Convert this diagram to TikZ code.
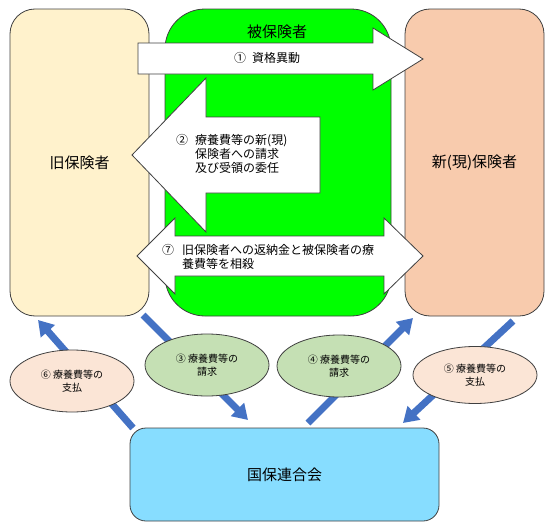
\documentclass[tikz,border=0pt]{standalone}
\usepackage{fontspec}
\setmainfont{Noto Sans CJK JP}
\usetikzlibrary{shapes.geometric,arrows.meta}
\definecolor{oldc}{HTML}{FFF2CC}
\definecolor{newc}{HTML}{F8CBAD}
\definecolor{insc}{HTML}{00FF00}
\definecolor{kokc}{HTML}{87DDFF}
\definecolor{elg}{HTML}{C5E0B4}
\definecolor{elp}{HTML}{FBE5D6}
\definecolor{blu}{HTML}{4472C4}
\definecolor{edge}{HTML}{404040}
\tikzset{
  box/.style={draw=edge, line width=0.8pt, rectangle, inner sep=0pt},
  bigarrow/.style={draw=edge, line width=0.8pt, fill=white, line join=miter},
  oval/.style={draw=edge, line width=0.8pt, ellipse, minimum width=124pt, minimum height=62pt, inner sep=0pt, align=center, font=\fontsize{10}{13}\selectfont},
  flow/.style={draw=blu, line width=7pt, -{Triangle[width=18pt,length=15pt]}},
  lbl/.style={font=\fontsize{15}{18}\selectfont, inner sep=0pt},
  atext/.style={font=\fontsize{12}{14}\selectfont, inner sep=0pt, align=left}
}
\begin{document}
\begin{tikzpicture}[x=1pt,y=-1pt]
\useasboundingbox (0,0) rectangle (552,530);
% boxes
\node[box, fill=oldc, rounded corners=25pt, minimum width=139pt, minimum height=307pt, lbl] (old) at (79.5,162.5) {旧保険者};
\node[box, fill=insc, rounded corners=40pt, minimum width=226pt, minimum height=307pt] (ins) at (278,162.5) {};
\node[lbl] (inslbl) at (277,32) {被保険者};
\node[box, fill=newc, rounded corners=25pt, minimum width=139pt, minimum height=307pt, lbl] (new) at (474.5,162.5) {新(現)保険者};
\node[box, fill=kokc, rounded corners=16pt, minimum width=309pt, minimum height=93pt, lbl] (kok) at (284.5,474.5) {国保連合会};
% big white arrows
\draw[bigarrow] (138,43) -- (373,43) -- (373,28) -- (423,59) -- (373,90) -- (373,74) -- (138,74) -- cycle;
\node[atext] (t1) at (267,58) {①\hspace{6pt}資格異動};
\draw[bigarrow] (132,155) -- (206,78) -- (206,117) -- (320,117) -- (320,193) -- (206,193) -- (206,232) -- cycle;
\node[atext, anchor=west] (t2) at (176,154) {\makebox[19pt][l]{②}療養費等の新(現)\\\hspace*{19pt}保険者への請求\\\hspace*{19pt}及び受領の委任};
\draw[bigarrow] (137,256) -- (175,218) -- (175,236) -- (384,236) -- (384,218) -- (423,256) -- (384,294) -- (384,276) -- (175,276) -- (175,294) -- cycle;
\node[atext, anchor=west] (t7) at (162,256.5) {\makebox[20pt][l]{⑦}旧保険者への返納金と被保険者の療\\\hspace*{20pt}養費等を相殺};
% flows
\coordinate (a3s) at (143,315);
\coordinate (a3e) at (248,420);
\coordinate (a6s) at (133,428);
\coordinate (a6e) at (38,320);
\coordinate (a4s) at (308,423);
\coordinate (a4e) at (413,318);
\coordinate (a5s) at (513,321);
\coordinate (a5e) at (403,423);
\draw[flow] (a3s) -- (a3e);
\draw[flow] (a6s) -- (a6e);
\draw[flow] (a4s) -- (a4e);
\draw[flow] (a5s) -- (a5e);
% ovals
\node[oval, fill=elp] (e6) at (72,381) {⑥ 療養費等の\\支払};
\node[oval, fill=elg] (e3) at (207,365) {③ 療養費等の\\請求};
\node[oval, fill=elg] (e4) at (339,366) {④ 療養費等の\\請求};
\node[oval, fill=elp, minimum height=57pt] (e5) at (475,375) {⑤ 療養費等の\\支払};
\end{tikzpicture}
\end{document}
